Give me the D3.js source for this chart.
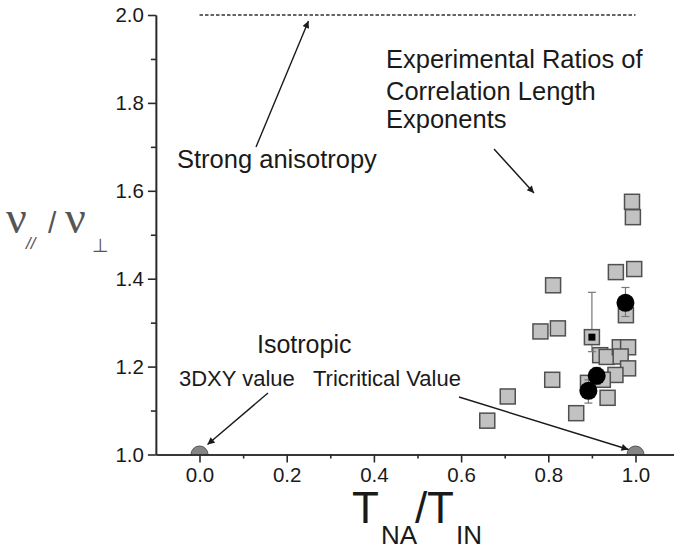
<!doctype html>
<meta charset="utf-8">
<script src="https://d3js.org/d3.v7.min.js"></script>
<style>
body{margin:0;background:#fff;}
text{font-family:"Liberation Sans",Arial,sans-serif;}
</style>
<body>
</body>
<script>
//*****************
// data
var squareX = [0.955,0.997,0.811,0.978,0.782,0.822,0.809,0.707,0.660,0.864,0.936,0.919,0.934,0.964,0.983,0.966,0.983,0.954,0.891,0.925,0.992,0.994];
var squareY = [1.415,1.422,1.385,1.317,1.280,1.287,1.170,1.132,1.077,1.094,1.129,1.226,1.222,1.244,1.244,1.223,1.196,1.181,1.163,1.170,1.575,1.540];
// the square with the black centre
var markedX = [0.900];
var markedY = [1.267];
var markedLo = [1.234];
var markedHi = [1.369];
// black circles with error bars
var circleX = [0.977,0.911,0.892];
var circleY = [1.345,1.179,1.145];
var circleLo = [1.314,1.160,1.117];
var circleHi = [1.380,1.198,1.170];
// theory points on the axis
var refX = [0.0,1.0];
var refY = [1.0,1.0];
// strong anisotropy limit
var limitX = [0.0,1.0];
var limitY = [2.0,2.0];
var xTicks = [0.0,0.2,0.4,0.6,0.8,1.0];
var xMinor = [0.1,0.3,0.5,0.7,0.9];
var yTicks = [1.0,1.2,1.4,1.6,1.8,2.0];
var yMinor = [1.1,1.3,1.5,1.7,1.9];
//**********************

var width = 674, height = 551;
var axisColor = "#2a2a2a";

var svg = d3.select("body").append("svg").attr("width",width).attr("height",height);

var xScale = d3.scaleLinear().domain([-0.1,1.1]).range([155.9,679.1]);
var yScale = d3.scaleLinear().domain([1.0,2.0]).range([454.5,15]);

var defs = svg.append("defs");
defs.append("marker")
    .attr("id","arrow")
    .attr("viewBox","0 0 10 10")
    .attr("refX",10).attr("refY",5)
    .attr("markerWidth",9).attr("markerHeight",7)
    .attr("markerUnits","userSpaceOnUse")
    .attr("orient","auto")
  .append("path")
    .attr("d","M0,0L10,5L0,10z")
    .attr("fill","#1a1a1a");

defs.append("clipPath").attr("id","plotclip")
    .append("rect")
    .attr("x",xScale(-0.1)).attr("y",0)
    .attr("width",width).attr("height",yScale(1.0));

// dashed line at 2.0
svg.append("path")
    .attr("d",d3.line().x(function(d){return xScale(d[0]);}).y(function(d){return yScale(d[1]);})(d3.zip(limitX,limitY)))
    .attr("stroke","#333")
    .attr("stroke-width",1.5)
    .attr("stroke-dasharray","3.5,2")
    .attr("fill","none");

// reference points, half hidden by the axis
svg.append("g").attr("clip-path","url(#plotclip)")
  .selectAll("circle")
  .data(d3.range(refX.length))
  .enter().append("circle")
    .attr("cx",function(i){return xScale(refX[i]);})
    .attr("cy",function(i){return yScale(refY[i]);})
    .attr("r",8.5)
    .attr("fill","#858585")
    .attr("stroke","#555")
    .attr("stroke-width",1);

//---axes
function styleAxis(g){
  g.selectAll("path,line").attr("stroke",axisColor).attr("stroke-width",1.6);
  g.selectAll("text").attr("fill","#1a1a1a").style("font-size","20.5px").attr("font-family","Liberation Sans, Arial, sans-serif");
}

svg.append("g")
  .attr("transform","translate(0,"+yScale(1.0)+")")
  .call(d3.axisBottom(xScale).tickValues(xMinor).tickSize(4).tickSizeOuter(0).tickFormat(""))
  .call(styleAxis);
svg.append("g")
  .attr("transform","translate(0,"+yScale(1.0)+")")
  .call(d3.axisBottom(xScale).tickValues(xTicks).tickSize(8).tickSizeOuter(0).tickPadding(5).tickFormat(d3.format(".1f")))
  .call(styleAxis);

svg.append("g")
  .attr("transform","translate("+xScale(-0.1)+",0)")
  .call(d3.axisLeft(yScale).tickValues(yMinor).tickSize(5).tickSizeOuter(0).tickFormat(""))
  .call(styleAxis);
svg.append("g")
  .attr("transform","translate("+xScale(-0.1)+",0)")
  .call(d3.axisLeft(yScale).tickValues(yTicks).tickSize(8).tickSizeOuter(0).tickPadding(4).tickFormat(d3.format(".1f")))
  .call(styleAxis);

//---squares
var side = 15;
svg.append("g").selectAll("rect")
  .data(d3.range(squareX.length))
  .enter().append("rect")
    .attr("x",function(i){return xScale(squareX[i])-side/2;})
    .attr("y",function(i){return yScale(squareY[i])-side/2;})
    .attr("width",side).attr("height",side)
    .attr("fill","#c2c2c2")
    .attr("stroke","#505050")
    .attr("stroke-width",1.5);

//---error bars
function errorBars(xs,lo,hi){
  var g = svg.append("g").attr("stroke","#777").attr("stroke-width",1.2);
  g.selectAll("line.v").data(d3.range(xs.length)).enter().append("line")
    .attr("x1",function(i){return xScale(xs[i]);}).attr("x2",function(i){return xScale(xs[i]);})
    .attr("y1",function(i){return yScale(lo[i]);}).attr("y2",function(i){return yScale(hi[i]);});
  [lo,hi].forEach(function(arr){
    g.selectAll(null).data(d3.range(xs.length)).enter().append("line")
      .attr("x1",function(i){return xScale(xs[i])-4;}).attr("x2",function(i){return xScale(xs[i])+4;})
      .attr("y1",function(i){return yScale(arr[i]);}).attr("y2",function(i){return yScale(arr[i]);});
  });
}
errorBars(markedX,markedLo,markedHi);
errorBars(circleX,circleLo,circleHi);

//---marked square
var mk = svg.append("g").selectAll("g")
  .data(d3.range(markedX.length))
  .enter().append("g");
mk.append("rect")
    .attr("x",function(i){return xScale(markedX[i])-side/2;})
    .attr("y",function(i){return yScale(markedY[i])-side/2;})
    .attr("width",side).attr("height",side)
    .attr("fill","#c2c2c2").attr("stroke","#505050").attr("stroke-width",1.5);
mk.append("rect")
    .attr("x",function(i){return xScale(markedX[i])-3.5;})
    .attr("y",function(i){return yScale(markedY[i])-3.5;})
    .attr("width",7).attr("height",7)
    .attr("fill","#000");

//---circles
svg.append("g").selectAll("circle")
  .data(d3.range(circleX.length))
  .enter().append("circle")
    .attr("cx",function(i){return xScale(circleX[i]);})
    .attr("cy",function(i){return yScale(circleY[i]);})
    .attr("r",9)
    .attr("fill","#000");

//---annotations
function label(x,y,size,txt){
  svg.append("text").attr("x",x).attr("y",y).style("font-size",size+"px").attr("fill","#1a1a1a").text(txt);
}
function arrow(x1,y1,x2,y2){
  svg.append("line").attr("x1",x1).attr("y1",y1).attr("x2",x2).attr("y2",y2)
    .attr("stroke","#1a1a1a").attr("stroke-width",1.4).attr("marker-end","url(#arrow)");
}
label(177,168,25.5,"Strong anisotropy");
arrow(256,147,xScale(0.25),yScale(2.0)+6);

label(386,68,25.5,"Experimental Ratios of");
label(386,100,25.5,"Correlation Length");
label(386,128,25.5,"Exponents");
arrow(494,149,534,193);

label(257,353,25,"Isotropic");
label(179,386,22,"3DXY value");
label(313,386,22,"Tricritical Value");
arrow(268,393,xScale(0.0)+8,yScale(1.0)-10);
arrow(459,397,xScale(1.0)-7,yScale(1.0)-5);

//---axis titles
var ylab = svg.append("g").attr("fill","#555");
ylab.append("text").attr("x",6).attr("y",233).style("font-family","Liberation Serif, serif").style("font-size","46px").text("\u03bd");
ylab.append("text").attr("x",26).attr("y",249).style("font-size","17px").style("font-style","italic").text("//");
ylab.append("text").attr("x",48).attr("y",233).style("font-size","30px").text("/");
ylab.append("text").attr("x",65).attr("y",233).style("font-family","Liberation Serif, serif").style("font-size","46px").text("\u03bd");
ylab.append("text").attr("x",92).attr("y",252).style("font-family","DejaVu Sans, sans-serif").style("font-size","19px").text("\u22a5");

var xlab = svg.append("g").attr("fill","#1a1a1a");
xlab.append("text").attr("x",352).attr("y",523).style("font-size","44px").text("T");
xlab.append("text").attr("x",381).attr("y",544).style("font-size","26px").text("NA");
xlab.append("text").attr("x",415).attr("y",523).style("font-size","44px").text("/");
xlab.append("text").attr("x",427).attr("y",523).style("font-size","44px").text("T");
xlab.append("text").attr("x",456).attr("y",544).style("font-size","26px").text("IN");
</script>
